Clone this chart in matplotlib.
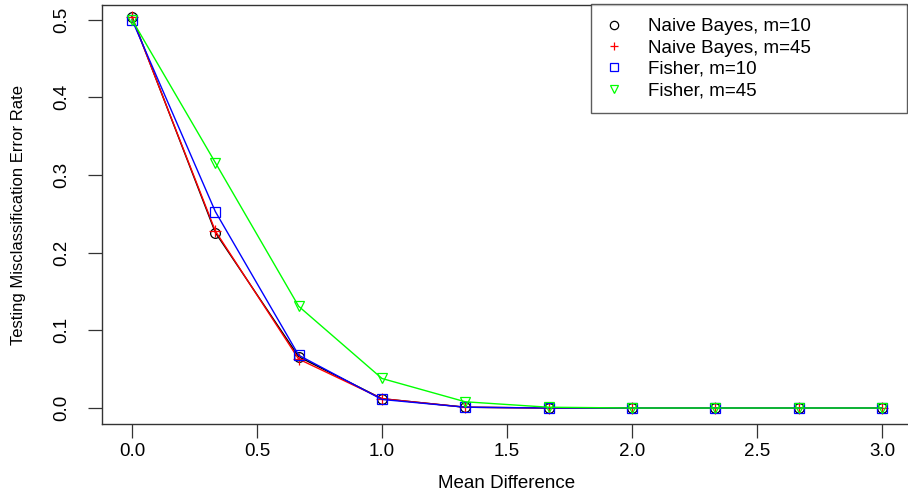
import matplotlib
matplotlib.use("Agg")
import matplotlib.pyplot as plt
import matplotlib.transforms as mtransforms
import numpy as np

plt.rcParams['font.family'] = ['Liberation Sans', 'DejaVu Sans']

# Mean difference grid
mean_diff = [0.0, 1/3, 2/3, 1.0, 4/3, 5/3, 2.0, 7/3, 8/3, 3.0]

# Testing misclassification error rates
nb_m10 = [0.504, 0.226, 0.066, 0.012, 0.001, 0.0, 0.0, 0.0, 0.0, 0.0]
nb_m45 = [0.503, 0.228, 0.063, 0.012, 0.001, 0.0, 0.0, 0.0, 0.0, 0.0]
fisher_m10 = [0.500, 0.253, 0.068, 0.011, 0.001, 0.0, 0.0, 0.0, 0.0, 0.0]
fisher_m45 = [0.500, 0.316, 0.131, 0.038, 0.008, 0.001, 0.0, 0.0, 0.0, 0.0]

labels = ["Naive Bayes, m=10", "Naive Bayes, m=45", "Fisher, m=10", "Fisher, m=45"]
series = [nb_m10, nb_m45, fisher_m10, fisher_m45]
colors = ["#000000", "#FF0000", "#0000FF", "#00FF00"]
markers = ["o", "+", "s", "v"]

W, H = 908, 497
fig = plt.figure(figsize=(W / 100, H / 100), dpi=100)
left, right, top, bottom = 102, 912, 5, 424
ax = fig.add_axes([left / W, 1 - bottom / H, (right - left) / W, (bottom - top) / H])

for y, c, m, lab in zip(series, colors, markers, labels):
    ax.plot(mean_diff, y, color=c, lw=1.0, marker=m, markersize=7 if m != "+" else 9,
            markerfacecolor="none", markeredgecolor=c, markeredgewidth=0.9, label=lab)

ax.set_xlim(-0.12, 3.12)
ax.set_ylim(-0.0206, 0.519)
ax.set_xticks(np.arange(0, 3.01, 0.5))
ax.set_xticklabels([f"{v:.1f}" for v in np.arange(0, 3.01, 0.5)])
ax.set_yticks(np.arange(0, 0.51, 0.1))
ax.set_yticklabels([f"{v:.1f}" for v in np.arange(0, 0.51, 0.1)], rotation=90, va="center")

ax.tick_params(axis="both", direction="out", length=10, width=0.9, labelsize=13.5, color="#333333")
ax.tick_params(axis="x", pad=4)
ax.tick_params(axis="y", pad=13)
for s in ax.spines.values():
    s.set_linewidth(1.0)
    s.set_color("#333333")

# Axis titles placed at fixed pixel offsets
ax.set_xlabel("Mean Difference", fontsize=13.5)
ax.xaxis.set_label_coords(0.5, H - 483, transform=mtransforms.blended_transform_factory(
    ax.transAxes, mtransforms.IdentityTransform()))
ax.xaxis.label.set_verticalalignment("center")
ax.set_ylabel("Testing Misclassification Error Rate", fontsize=12)
ax.yaxis.set_label_coords(19 / W, 0.5, transform=mtransforms.blended_transform_factory(
    fig.transFigure, ax.transAxes))
ax.yaxis.label.set_verticalalignment("center")

span = right - left
leg = ax.legend(loc="upper left",
                bbox_to_anchor=((591 - left) / span, 1.002, (907 - 591) / span, 0),
                mode="expand", frameon=True, fancybox=False, edgecolor="#333333",
                fontsize=13.5, handlelength=1.0, handletextpad=1.3, borderpad=0.75,
                labelspacing=0.22, borderaxespad=0)
leg.get_frame().set_linewidth(1.0)
for h in leg.get_lines():
    h.set_linestyle("none")
    h.set_markersize(6)

fig.savefig("out.png", dpi=100)
